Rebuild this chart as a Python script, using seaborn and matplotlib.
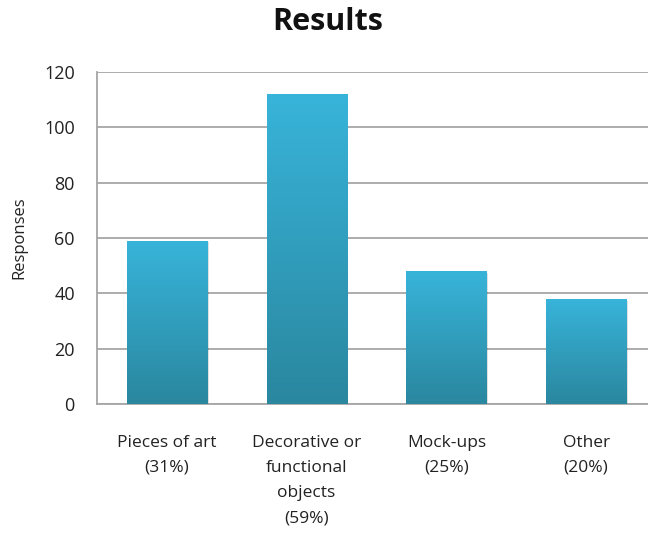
import numpy as np
import pandas as pd
import matplotlib
matplotlib.use("Agg")
import matplotlib.pyplot as plt
from matplotlib.colors import LinearSegmentedColormap
import seaborn as sns

categories = ["Pieces of art\n(31%)", "Decorative or\nfunctional\nobjects\n(59%)",
              "Mock-ups\n(25%)", "Other\n(20%)"]
responses = [59, 112, 48, 38]
y_ticks = [0, 20, 40, 60, 80, 100, 120]

sns.set_theme(style="white")
plt.rcParams["font.family"] = ["Open Sans", "DejaVu Sans"]

df = pd.DataFrame({"category": categories, "responses": responses})

fig = plt.figure(figsize=(6.48, 5.33), dpi=100)
W, H = 648, 533
left, right, bottom, top = 97, 656, 404, 72
ax = fig.add_axes([left / W, 1 - bottom / H, (right - left) / W, (bottom - top) / H])

sns.barplot(data=df, x="category", y="responses", ax=ax, width=0.573,
            color="#35b0d6", edgecolor="none", zorder=3)

ax.set_ylim(0, 120)
ax.set_xlim(-0.5, 3.5)
ax.set_yticks(y_ticks)
ax.yaxis.grid(True, color="#a6a6a6", linewidth=1.3, zorder=0)
ax.set_axisbelow(True)
for side in ["top", "right"]:
    ax.spines[side].set_visible(False)
for side in ["left", "bottom"]:
    ax.spines[side].set_color("#a6a6a6")
    ax.spines[side].set_linewidth(1.3)

# vertical gradient fill on each bar, with a faint drop shadow
cmap = LinearSegmentedColormap.from_list("bar", ["#2a879f", "#38b4da"])
grad = np.linspace(0, 1, 256).reshape(-1, 1)
for patch in list(ax.patches):
    x0, y0 = patch.get_x(), patch.get_y()
    w, h = patch.get_width(), patch.get_height()
    shadow = plt.Rectangle((x0 + 0.012, y0), w, h - 0.6, facecolor="#000000",
                           alpha=0.12, edgecolor="none", zorder=2)
    ax.add_patch(shadow)
    im = ax.imshow(grad, extent=[x0, x0 + w, y0, y0 + h], origin="lower",
                   cmap=cmap, aspect="auto", zorder=4)
    im.set_clip_path(patch)
ax.set_xlim(-0.5, 3.5)
ax.set_ylim(0, 120)

ax.set_xlabel("")
ax.set_ylabel("Responses", fontsize=12, color="#222222", labelpad=12)
ax.tick_params(axis="y", length=0, labelsize=13, labelcolor="#222222", pad=16)
ax.tick_params(axis="x", length=0, labelsize=12.5, labelcolor="#222222", pad=22)
for lbl in ax.get_xticklabels():
    lbl.set_linespacing(1.78)
    lbl.set_verticalalignment("top")

fig.text(328 / W, 1 - 22 / H, "Results", ha="center", va="center",
         fontsize=22, fontweight="bold", color="#111111")

fig.savefig("out.png", dpi=100)
